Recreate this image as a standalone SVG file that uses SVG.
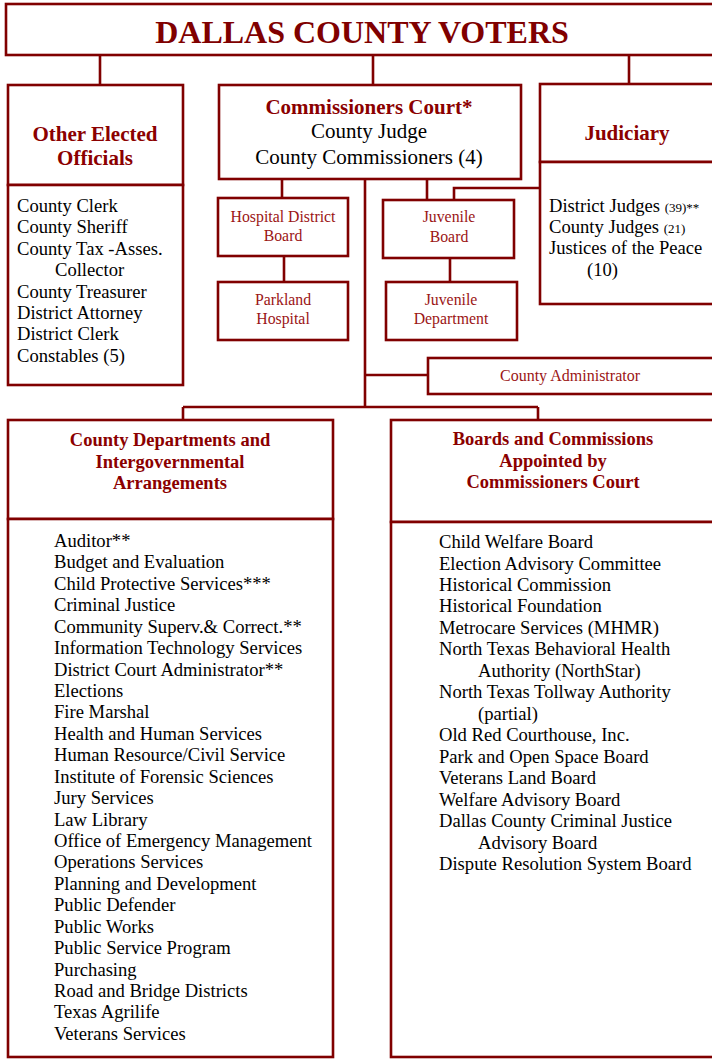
<svg xmlns="http://www.w3.org/2000/svg" width="712" height="1059" viewBox="0 0 712 1059">
<style>
.box{fill:#fff;stroke:#800000;stroke-width:2.6}
.ln{fill:none;stroke:#800000;stroke-width:2.6}
text{font-family:"Liberation Serif","Times New Roman",serif}
.title{font-size:32px;font-weight:bold;fill:#800000;text-anchor:middle}
.hd{font-size:21px;font-weight:bold;fill:#8b0000;text-anchor:middle}
.hd2{font-size:18.5px;font-weight:bold;fill:#8b0000;text-anchor:middle}
.bl{font-size:21px;fill:#000;text-anchor:middle}
.sm{font-size:15.8px;fill:#9b1515;text-anchor:middle}
.li{font-size:18.6px;fill:#000}
.tiny{font-size:13px}
</style>
<g id="connectors">
<path class="ln" d="M100 55V85M373 55V85M629 55V84"/>
<path class="ln" d="M282 179V198M284 256V282M427 179V200M540 188H454V200M450 258V282"/>
<path class="ln" d="M365 179V407M365 375H428M183 407H538M183 407V420M538 407V420"/>
</g>
<g id="voters"><rect class="box" x="6" y="4" width="720" height="51"/><text class="title" x="362" y="43">DALLAS COUNTY VOTERS</text></g>
<g id="other-elected">
<rect class="box" x="8" y="85" width="175" height="100"/>
<text class="hd" x="95" y="141">Other Elected</text><text class="hd" x="95" y="165">Officials</text>
<rect class="box" x="8" y="185" width="175" height="200"/>
<text class="li" x="17" y="212">County Clerk</text>
<text class="li" x="17" y="233">County Sheriff</text>
<text class="li" x="17" y="255">County Tax -Asses.</text>
<text class="li" x="55" y="276">Collector</text>
<text class="li" x="17" y="298">County Treasurer</text>
<text class="li" x="17" y="319">District Attorney</text>
<text class="li" x="17" y="340">District Clerk</text>
<text class="li" x="17" y="362">Constables (5)</text>
</g>
<g id="commissioners-court">
<rect class="box" x="219" y="85" width="302" height="94"/>
<text class="hd" x="369" y="114">Commissioners Court*</text>
<text class="bl" x="369" y="138">County Judge</text>
<text class="bl" x="369" y="164">County Commissioners (4)</text>
</g>
<g id="judiciary">
<rect class="box" x="540" y="84" width="190" height="78"/>
<text class="hd" x="627" y="140">Judiciary</text>
<rect class="box" x="540" y="162" width="190" height="142"/>
<text class="li" x="549" y="212">District Judges <tspan class="tiny">(39)**</tspan></text>
<text class="li" x="549" y="233">County Judges <tspan class="tiny">(21)</tspan></text>
<text class="li" x="549" y="254">Justices of the Peace</text>
<text class="li" x="587" y="276">(10)</text>
</g>
<g id="hospital-board"><rect class="box" x="218" y="198" width="130" height="58"/><text class="sm" x="283" y="222">Hospital District</text><text class="sm" x="283" y="241">Board</text></g>
<g id="parkland"><rect class="box" x="218" y="282" width="130" height="58"/><text class="sm" x="283" y="305">Parkland</text><text class="sm" x="283" y="324">Hospital</text></g>
<g id="juvenile-board"><rect class="box" x="383" y="200" width="131" height="58"/><text class="sm" x="449" y="222">Juvenile</text><text class="sm" x="449" y="242">Board</text></g>
<g id="juvenile-dept"><rect class="box" x="386" y="282" width="131" height="58"/><text class="sm" x="451" y="305">Juvenile</text><text class="sm" x="451" y="324">Department</text></g>
<g id="county-admin"><rect class="box" x="428" y="358" width="300" height="36"/><text class="sm" x="570" y="381" style="font-size:16px">County Administrator</text></g>
<g id="county-departments">
<rect class="box" x="8" y="420" width="325" height="99"/>
<text class="hd2" x="170" y="446">County Departments and</text>
<text class="hd2" x="170" y="468">Intergovernmental</text>
<text class="hd2" x="170" y="489">Arrangements</text>
<rect class="box" x="8" y="519" width="325" height="538"/>
<text class="li" x="54" y="547">Auditor**</text>
<text class="li" x="54" y="568.4">Budget and Evaluation</text>
<text class="li" x="54" y="589.9">Child Protective Services***</text>
<text class="li" x="54" y="611.3">Criminal Justice</text>
<text class="li" x="54" y="632.7">Community Superv.&amp; Correct.**</text>
<text class="li" x="54" y="654.2">Information Technology Services</text>
<text class="li" x="54" y="675.6">District Court Administrator**</text>
<text class="li" x="54" y="697">Elections</text>
<text class="li" x="54" y="718.4">Fire Marshal</text>
<text class="li" x="54" y="739.9">Health and Human Services</text>
<text class="li" x="54" y="761.3">Human Resource/Civil Service</text>
<text class="li" x="54" y="782.7">Institute of Forensic Sciences</text>
<text class="li" x="54" y="804.2">Jury Services</text>
<text class="li" x="54" y="825.6">Law Library</text>
<text class="li" x="54" y="847">Office of Emergency Management</text>
<text class="li" x="54" y="868.4">Operations Services</text>
<text class="li" x="54" y="889.9">Planning and Development</text>
<text class="li" x="54" y="911.3">Public Defender</text>
<text class="li" x="54" y="932.7">Public Works</text>
<text class="li" x="54" y="954.2">Public Service Program</text>
<text class="li" x="54" y="975.6">Purchasing</text>
<text class="li" x="54" y="997">Road and Bridge Districts</text>
<text class="li" x="54" y="1018.4">Texas Agrilife</text>
<text class="li" x="54" y="1039.9">Veterans Services</text>
</g>
<g id="boards-commissions">
<rect class="box" x="391" y="420" width="340" height="102"/>
<text class="hd2" x="553" y="445">Boards and Commissions</text>
<text class="hd2" x="553" y="467">Appointed by</text>
<text class="hd2" x="553" y="488">Commissioners Court</text>
<rect class="box" x="391" y="522" width="340" height="535"/>
<text class="li" x="439" y="548">Child Welfare Board</text>
<text class="li" x="439" y="569.5">Election Advisory Committee</text>
<text class="li" x="439" y="590.9">Historical Commission</text>
<text class="li" x="439" y="612.4">Historical Foundation</text>
<text class="li" x="439" y="633.9">Metrocare Services (MHMR)</text>
<text class="li" x="439" y="655.4">North Texas Behavioral Health</text>
<text class="li" x="478" y="676.8">Authority (NorthStar)</text>
<text class="li" x="439" y="698.3">North Texas Tollway Authority</text>
<text class="li" x="478" y="719.8">(partial)</text>
<text class="li" x="439" y="741.2">Old Red Courthouse, Inc.</text>
<text class="li" x="439" y="762.7">Park and Open Space Board</text>
<text class="li" x="439" y="784.2">Veterans Land Board</text>
<text class="li" x="439" y="805.6">Welfare Advisory Board</text>
<text class="li" x="439" y="827.1">Dallas County Criminal Justice</text>
<text class="li" x="478" y="848.6">Advisory Board</text>
<text class="li" x="439" y="870">Dispute Resolution System Board</text>
</g>
</svg>
